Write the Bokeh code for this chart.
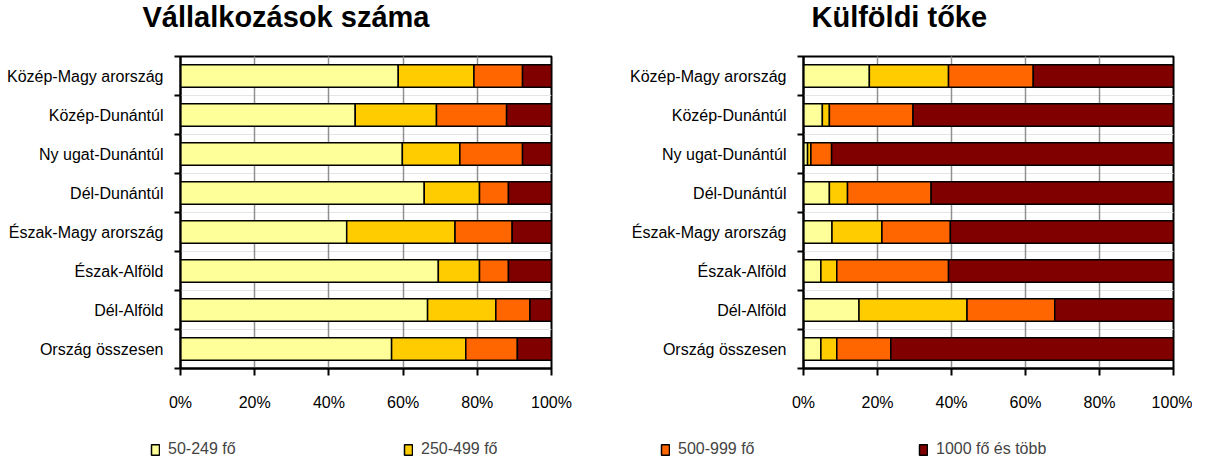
from bokeh.plotting import figure
from bokeh.models import (Range1d, LinearAxis, FixedTicker,
                          PrintfTickFormatter, ColumnDataSource, Title, Legend, LegendItem, Grid)
from bokeh.layouts import column, row
from bokeh.embed import file_html
from bokeh.resources import INLINE

# ---------------- data ----------------
regions = ["Közép-Magy arország", "Közép-Dunántúl", "Ny ugat-Dunántúl", "Dél-Dunántúl",
           "Észak-Magy arország", "Észak-Alföld", "Dél-Alföld", "Ország összesen"]
series = ["50-249 fő", "250-499 fő", "500-999 fő", "1000 fő és több"]
colors = ["#FFFF99", "#FFCC00", "#FF6600", "#800000"]

# Vállalkozások száma (%), per region (top to bottom)
vall_50_249 = [58.7, 47.1, 59.8, 65.7, 44.8, 69.5, 66.6, 56.9]
vall_250_499 = [20.4, 21.9, 15.5, 14.9, 29.2, 11.1, 18.4, 20.0]
vall_500_999 = [13.1, 18.9, 16.9, 7.8, 15.4, 7.8, 9.2, 13.9]
vall_1000 = [7.8, 12.1, 7.8, 11.6, 10.6, 11.6, 5.8, 9.2]

# Külföldi tőke (%), per region (top to bottom)
toke_50_249 = [17.8, 5.1, 1.1, 7.0, 7.7, 4.7, 15.0, 4.7]
toke_250_499 = [21.4, 1.9, 0.9, 4.9, 13.5, 4.3, 29.2, 4.3]
toke_500_999 = [22.9, 22.6, 5.6, 22.6, 18.5, 30.2, 23.7, 14.6]
toke_1000 = [37.9, 70.4, 92.4, 65.5, 60.3, 60.8, 32.1, 76.4]

x_ticks = [0, 20, 40, 60, 80, 100]

titles = ["Vállalkozások száma", "Külföldi tőke"]

FONT = "Liberation Sans"

n = len(regions)
ypos = [n - 0.5 - i for i in range(n)]   # category centres, first region on top
bounds = list(range(n + 1))              # category boundaries (tick marks)


def blank_fig(width, height):
    f = figure(width=width, height=height, output_backend="svg", toolbar_location=None,
               x_range=Range1d(0, 1), y_range=Range1d(0, 1),
               x_axis_location=None, y_axis_location=None, min_border=0)
    f.outline_line_color = None
    f.xgrid.visible = False
    f.ygrid.visible = False
    return f


def title_fig(text, width, offset):
    f = blank_fig(width, 40)
    f.add_layout(Title(text=text, align="left", vertical_align="top", offset=offset,
                       standoff=0, text_font=FONT, text_font_style="bold",
                       text_font_size="29px", text_color="black"), "above")
    return f


def make_chart(vals, width, border_left, border_right):
    data = {"y": ypos}
    for name, v in zip(series, vals):
        data[name] = v
    src = ColumnDataSource(data)
    p = figure(width=width, height=380, output_backend="svg", toolbar_location=None,
               y_range=Range1d(0, n), x_range=Range1d(0, 100),
               x_axis_location=None, y_axis_location=None,
               min_border_left=border_left, min_border_right=border_right,
               min_border_top=16, min_border_bottom=52)
    p.outline_line_color = "black"
    p.outline_line_width = 2
    p.background_fill_color = "white"
    p.border_fill_color = "white"

    p.add_layout(Grid(dimension=0, ticker=FixedTicker(ticks=x_ticks),
                      grid_line_color="#909090", grid_line_width=1.5))

    p.hbar_stack(series, y="y", height=0.58, color=colors, source=src,
                 line_color="black", line_width=1.5)

    tick_axis = LinearAxis(ticker=FixedTicker(ticks=bounds),
                           major_label_overrides={i: "" for i in bounds},
                           major_label_text_font_size="0px", major_label_standoff=0,
                           major_tick_out=6, major_tick_in=0, major_tick_line_width=2,
                           axis_line_width=2, minor_tick_line_color=None)
    label_axis = LinearAxis(ticker=FixedTicker(ticks=ypos),
                            major_label_overrides={y: r for y, r in zip(ypos, regions)},
                            axis_line_color=None, major_tick_line_color=None,
                            minor_tick_line_color=None,
                            major_label_standoff=5,
                            major_label_text_font=FONT,
                            major_label_text_font_size="16px",
                            major_label_text_color="black")
    p.add_layout(tick_axis, "left")
    p.add_layout(label_axis, "left")

    xaxis = LinearAxis(ticker=FixedTicker(ticks=x_ticks),
                       formatter=PrintfTickFormatter(format="%d%%"),
                       major_tick_out=7, major_tick_in=0, major_tick_line_width=2,
                       axis_line_width=2, minor_tick_line_color=None,
                       major_label_standoff=18, major_label_text_font=FONT,
                       major_label_text_font_size="16px", major_label_text_color="black")
    p.add_layout(xaxis, "below")
    return p


t1 = title_fig(titles[0], 592, 142)
t2 = title_fig(titles[1], 600, 219)
p1 = make_chart([vall_50_249, vall_250_499, vall_500_999, vall_1000], 592, 180, 41)
p2 = make_chart([toke_50_249, toke_250_499, toke_500_999, toke_1000], 600, 211, 19)

lf = blank_fig(1192, 38)
leg_x = [150, 403, 660, 918]
nan = float("nan")
for i, (name, c) in enumerate(zip(series, colors)):
    # proxy renderer with no drawable data, used only for the legend swatch
    r = lf.vbar(x=[nan], top=[nan], bottom=[nan], width=1, fill_color=c,
                line_color="black", line_width=1.5)
    leg = Legend(items=[LegendItem(label=name, renderers=[r])], location=(leg_x[i], 0),
                 orientation="horizontal", glyph_width=10, glyph_height=13,
                 label_text_font=FONT, label_text_font_size="16px",
                 label_standoff=8, padding=0, margin=0, spacing=0,
                 border_line_color=None, background_fill_alpha=0)
    lf.add_layout(leg)

layout = column(row(t1, t2), row(p1, p2), lf)
open("out.html", "w").write(file_html(layout, INLINE))
